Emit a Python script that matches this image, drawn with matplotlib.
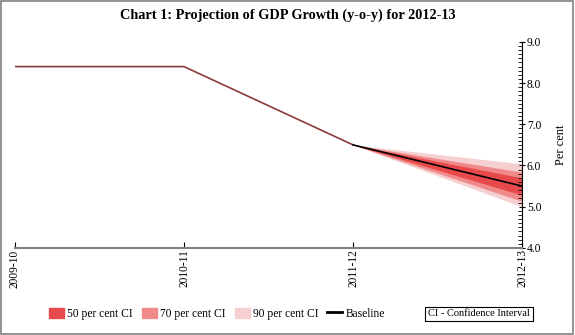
import numpy as np
import matplotlib.pyplot as plt
from matplotlib.patches import Patch
from matplotlib.lines import Line2D
from matplotlib.ticker import MultipleLocator

plt.rcParams['font.family'] = ['Liberation Serif', 'DejaVu Serif']
plt.rcParams['font.size'] = 8

# data
years = ['2009-10', '2010-11', '2011-12', '2012-13']
actual = [8.4, 8.4, 6.5]
baseline = [6.5, 5.5]
ci50_lo = [6.5, 5.28]
ci50_hi = [6.5, 5.70]
ci70_lo = [6.5, 5.13]
ci70_hi = [6.5, 5.84]
ci90_lo = [6.5, 5.00]
ci90_hi = [6.5, 6.04]

x = np.arange(len(years))
xf = x[2:]

fig = plt.figure(figsize=(5.75, 3.35), dpi=100)
ax = fig.add_axes([0.026, 0.26, 0.882, 0.615])

ax.fill_between(xf, ci90_lo, ci90_hi, color='#f6cfd0', lw=0)
ax.fill_between(xf, ci70_lo, ci70_hi, color='#f08a8a', lw=0)
ax.fill_between(xf, ci50_lo, ci50_hi, color='#e84a4c', lw=0)
ax.plot(x[:3], actual, color='#8b3a3a', lw=1.2)
ax.plot(xf, baseline, color='black', lw=1.2)

ax.set_xlim(0, 3)
ax.set_ylim(4.0, 9.0)
ax.set_xticks(x)
ax.set_xticklabels(years, rotation=90, fontsize=8.3)
ax.yaxis.tick_right()
ax.yaxis.set_label_position('right')
ax.yaxis.set_major_locator(MultipleLocator(1.0))
ax.yaxis.set_minor_locator(MultipleLocator(0.1))
ax.yaxis.set_major_formatter(plt.FormatStrFormatter('%.1f'))
ax.set_ylabel('Per cent', fontsize=9, labelpad=10)
ax.tick_params(axis='y', which='major', length=5, pad=1, direction='inout', labelsize=8.3)
ax.tick_params(axis='y', which='minor', length=3, direction='in')
ax.tick_params(axis='x', length=4, pad=1, direction='in')
for s in ['top', 'left']:
    ax.spines[s].set_visible(False)
ax.spines['bottom'].set_color('#808080')
ax.spines['bottom'].set_linewidth(1.5)
ax.spines['right'].set_color('black')

fig.suptitle('Chart 1: Projection of GDP Growth (y-o-y) for 2012-13',
             fontsize=10.3, fontweight='bold', y=0.975)

handles = [Patch(color='#e84a4c'), Patch(color='#f08a8a'), Patch(color='#f6cfd0'),
           Line2D([], [], color='black', lw=2)]
labels = ['50 per cent CI', '70 per cent CI', '90 per cent CI', 'Baseline']
fig.legend(handles, labels, loc='center left', bbox_to_anchor=(0.068, 0.063),
           ncol=4, frameon=False, fontsize=8.3, handlelength=1.3,
           handleheight=1.0, columnspacing=0.8, handletextpad=0.25)
fig.text(0.833, 0.063, 'CI - Confidence Interval', fontsize=7.5, ha='center', va='center',
         bbox=dict(facecolor='white', edgecolor='black', lw=0.8, pad=2))

fig.patches.append(plt.Rectangle((0.002, 0.003), 0.995, 0.994, transform=fig.transFigure,
                                 fill=False, edgecolor='#808080', lw=1.2))

fig.savefig('out.png', dpi=100)
